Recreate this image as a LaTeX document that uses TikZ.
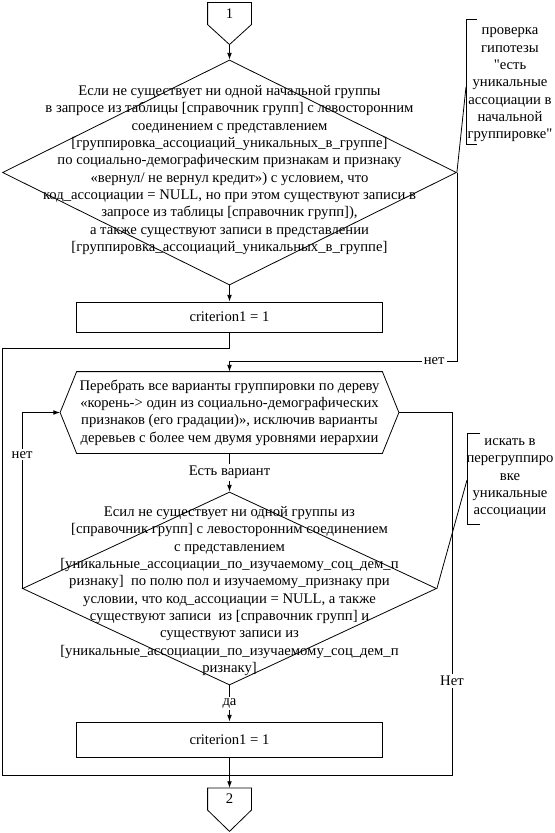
\documentclass[tikz,border=0pt]{standalone}
\usepackage{fontspec}
\setmainfont{Liberation Serif}
\usetikzlibrary{shapes.geometric,arrows.meta}

\begin{document}
\begin{tikzpicture}[x=0.75pt,y=-0.75pt,line width=0.6pt,
	every node/.style={font=\fontsize{11}{13}\selectfont},
	txt/.style={align=center,inner sep=0pt},
	lbl/.style={fill=white,inner sep=1.5pt},
	arr/.style={-{Latex[length=5pt,width=3.5pt]}},
	dia/.style={diamond,draw,inner sep=0pt},
	blk/.style={rectangle,draw,inner sep=0pt,minimum width=229.5pt},
	cnt/.style={rectangle,inner sep=0pt,minimum width=32.25pt,minimum height=16pt}]
	\useasboundingbox (0,0) rectangle (555,833);

	\node[cnt] (c1) at (229.5,13.5) {1};
	\draw (c1.north west) -- (c1.north east) -- (c1.south east) -- ([yshift=-15pt]c1.south) coordinate (c1tip) -- (c1.south west) -- cycle;

	\node[dia,minimum width=340.5pt,minimum height=168.75pt] (d1) at (229.5,172.5) {};
	\node[txt] (t1) at (229.5,170) {Если не существует ни одной начальной группы\\
		в запросе из таблицы [справочник групп] с левосторонним\\
		соединением с представлением\\
		{[}группировка\_ассоциаций\_уникальных\_в\_группе]\\
		по социально-демографическим признакам и признаку\\
		«вернул/ не вернул кредит») с условием, что\\
		код\_ассоциации = NULL, но при этом существуют записи в\\
		запросе из таблицы [справочник групп]),\\
		а также существуют записи в представлении\\
		{[}группировка\_ассоциаций\_уникальных\_в\_группе]};

	\node[blk,minimum height=22.5pt] (b1) at (229.5,317) {criterion1 = 1};

	\node[txt,minimum width=253.5pt,minimum height=60.75pt] (hex) at (229.5,412.5) {Перебрать все варианты группировки по дереву\\
		«корень-> один из социально-демографических\\
		признаков (его градации)», исключив варианты\\
		деревьев с более чем двумя уровнями иерархии};
	\draw (hex.west) -- ([xshift=12.4pt]hex.north west) -- ([xshift=-12.4pt]hex.north east) -- (hex.east) -- ([xshift=-12.4pt]hex.south east) -- ([xshift=12.4pt]hex.south west) -- cycle;

	\node[dia,minimum width=310.5pt,minimum height=144.75pt] (d2) at (229.5,588.5) {};
	\node[txt] (t2) at (229.5,591) {Есил не существует ни одной группы из\\
		{[}справочник групп] с левосторонним соединением\\
		с представлением\\
		{[}уникальные\_ассоциации\_по\_изучаемому\_соц\_дем\_п\\
		ризнаку]~ по полю пол и изучаемому\_признаку при\\
		условии, что код\_ассоциации = NULL, а также\\
		существуют записи~ из [справочник групп] и\\
		существуют записи из\\
		{[}уникальные\_ассоциации\_по\_изучаемому\_соц\_дем\_п\\
		ризнаку]};

	\node[blk,minimum height=26.25pt] (b2) at (229.5,739.5) {criterion1 = 1};

	\node[cnt] (c2) at (229.5,799) {2};
	\draw (c2.north west) -- (c2.north east) -- (c2.south east) -- ([yshift=-16pt]c2.south) -- (c2.south west) -- cycle;

	\node[txt] (a1) at (510,85) {проверка\\гипотезы\\\textquotedbl есть\\уникальные\\ассоциации в\\начальной\\группировке\textquotedbl};
	\draw (477,19) -- (466,19) -- (466,144) -- (477,144);
	\coordinate (a1p) at (466,87);
	\draw (a1p) -- (d1.east);

	\node[txt] (a2) at (510,478) {искать в\\перегруппиро\\вке\\уникальные\\ассоциации};
	\draw (480,433) -- (467,433) -- (467,524) -- (480,524);
	\coordinate (a2p) at (467,480);
	\draw (a2p) -- (d2.east);

	\coordinate (bl) at (2,775);
	\coordinate (br) at (452,775);
	\coordinate (mj) at (229.5,775);

	\draw[arr] (c1tip) -- (d1.north);
	\draw[arr] (d1.south) -- (b1.north);
	\draw (b1.south) -- ++(0,16) -| (bl) -- (mj);
	\draw[arr] (d1.east) |- node[lbl,pos=0.55]{нет} ([yshift=7.5pt]hex.north) -- (hex.north);
	\draw[arr] (hex.south) -- node[lbl]{Есть вариант} (d2.north);
	\draw[arr] (d2.west) |- node[lbl,pos=0.38]{нет} (hex.west);
	\draw (hex.east) -| node[lbl,pos=0.87]{Нет} (br) -- (mj);
	\draw[arr] (d2.south) -- node[lbl]{да} (b2.north);
	\draw[arr] (b2.south) -- (c2.north);
\end{tikzpicture}
\end{document}
